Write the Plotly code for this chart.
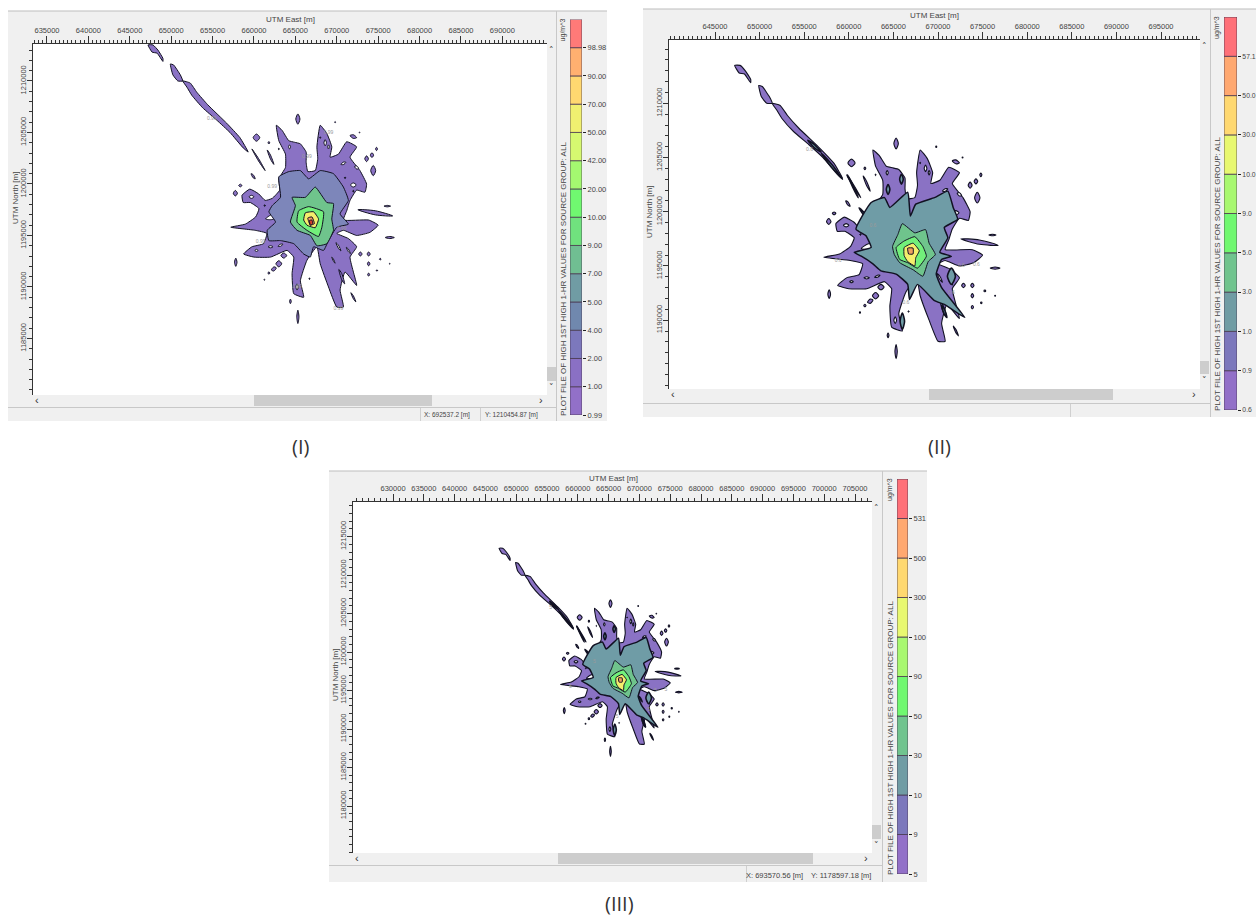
import plotly.graph_objects as go

W, H = 1256, 918
FONT = "Liberation Sans"
TXT = "#444444"

# ---------- data: contour outlines, UTM km ----------
plume_a_e = [647.2, 647.8, 648.4, 649.0, 649.0, 648.3, 647.7]
plume_a_n = [1213.5, 1213.5, 1213.0, 1212.2, 1211.9, 1212.7, 1212.8]
plume_b_e = [649.9, 650.3, 651.1, 651.4, 650.8, 650.2]
plume_b_n = [1211.65, 1211.55, 1210.6, 1210.0, 1210.0, 1210.6]
plume_c_e = [651.4, 652.3, 653.1, 654.4, 656.7, 658.3, 659.3, 658.7, 657.1, 655.5, 653.8, 652.5, 651.9]
plume_c_n = [1210.0, 1209.8, 1208.9, 1207.7, 1205.9, 1204.5, 1203.1, 1203.5, 1205.0, 1206.2, 1207.4, 1208.6, 1209.4]

outer_e = [657.2, 658.95, 660.2, 660.6, 659.55, 658.7, 658.55, 659.5, 660.55, 661.35, 662.2, 663.1, 663.0, 663.8,
           663.8, 663.0, 662.7, 663.4, 664.2, 664.9, 665.6, 666.3, 666.3, 666.5, 667.4, 667.7, 667.6, 668.0, 668.8,
           669.4, 669.2, 670.2, 671.2, 672.4, 671.6, 672.8, 673.6, 673.4, 672.4, 671.6, 671.2, 670.8, 673.85, 675.0,
           674.0, 672.4, 670.8, 670.0, 671.4, 672.4, 671.6, 672.4, 671.0, 670.4, 670.8, 670.0, 669.0, 668.0, 667.6,
           666.4, 665.6, 666.0, 664.8, 664.6, 664.8, 664.0, 662.0, 660.0, 658.75, 659.75, 661.15, 661.55, 660.15]
outer_n = [1195.8, 1196.1, 1196.8, 1197.6, 1198.2, 1198.2, 1198.9, 1199.5, 1199.05, 1198.4, 1198.6, 1199.4, 1200.5,
           1201.6, 1202.9, 1204.2, 1205.7, 1205.2, 1204.2, 1204.05, 1203.9, 1203.1, 1202.1, 1201.2, 1201.3, 1202.45,
           1203.6, 1205.7, 1204.9, 1203.6, 1202.6, 1202.9, 1204.1, 1203.6, 1202.6, 1201.3, 1200.0, 1199.2, 1199.4,
           1198.4, 1197.4, 1196.5, 1196.5, 1196.0, 1195.3, 1195.0, 1195.5, 1195.2, 1194.7, 1193.9, 1192.9, 1190.15,
           1191.45, 1189.7, 1188.05, 1188.05, 1190.0, 1192.25, 1193.9, 1192.6, 1190.6, 1189.0, 1189.35, 1191.3, 1192.9,
           1193.55, 1192.9, 1192.9, 1193.2, 1193.9, 1194.2, 1195.2, 1195.5]

# islands: east, north, half-width, half-height, tilt (km)
islands = [
    (665.3, 1206.3, .25, .5, 0), (660.3, 1204.5, .4, .35, 0), (665.3, 1187.1, .13, .65, 0),
    (674.65, 1197.2, 2.1, .2, -.3), (676.1, 1197.85, .4, .07, 0), (676.4, 1194.8, .55, .1, 0),
    (674.4, 1201.3, .3, .5, 0), (673.6, 1202.45, .22, .28, 0), (674.25, 1202.8, .2, .23, 0),
    (674.8, 1203.4, .12, .16, 0), (672.0, 1204.6, .4, .18, -.1), (657.75, 1199.1, .25, .27, 0),
    (658.35, 1199.85, .2, .13, 0), (659.9, 1200.75, .25, .15, -.25), (657.8, 1192.4, .15, .4, 0),
    (662.4, 1191.75, .3, .2, .1), (661.8, 1191.35, .12, .12, 0), (661.25, 1190.7, .06, .06, 0),
    (663.0, 1192.25, .35, .3, 0), (663.6, 1193.05, .35, .25, 0), (670.6, 1191.0, .35, .3, -.7),
    (672.0, 1189.0, .3, .15, -.45), (664.4, 1188.6, .1, .22, 0), (672.85, 1193.2, .2, .2, 0),
    (673.85, 1193.2, .18, .2, 0), (673.85, 1192.25, .15, .2, 0), (673.85, 1191.2, .12, .15, 0),
    (674.85, 1191.6, .08, .08, 0), (675.25, 1192.7, .1, .08, 0), (676.4, 1192.25, .05, .05, 0),
    (672.75, 1205.0, .05, .05, 0), (669.8, 1206.0, .06, .06, 0), (661.8, 1204.0, .1, .12, 0),
    (662.0, 1202.6, .4, .2, -.7), (660.55, 1202.35, .8, .12, -1.05),
]
holes = [(662.2, 1196.8, .8, .25, .2), (664.3, 1203.6, .12, .2, 0), (672.0, 1199.9, .35, .2, 0),
         (659.7, 1198.75, .3, .15, 0), (668.6, 1204.0, .15, .3, 0), (670.2, 1193.9, .3, .15, -.4),
         (671.4, 1193.55, .25, .12, -.3), (669.6, 1192.6, .2, .1, -.3), (665.2, 1190.0, .15, .3, 0),
         (662.0, 1193.9, .3, .1, 0), (660.3, 1193.55, .2, .1, 0), (663.2, 1194.05, .3, .1, .1),
         (669.0, 1203.6, .1, .2, 0), (672.4, 1201.6, .25, .15, -.1), (670.8, 1202.0, .3, .12, .1)]
specks = [(664.3, 1200.8, .08, .08, 0), (661.3, 1197.9, .08, .08, 0), (672.0, 1199.3, .08, .08, 0),
          (668.0, 1204.5, .07, .07, 0), (663.0, 1203.4, .07, .07, 0), (671.0, 1200.6, .08, .08, 0),
          (666.7, 1190.8, .07, .07, 0), (669.2, 1198.9, .07, .1, 0)]

# tiny contour-value labels along the outermost line
p1_tag_e = [654.9, 666.4, 660.8, 670.6, 670.2, 665.2, 662.2, 669.0]
p1_tag_n = [1206.3, 1202.6, 1194.4, 1195.65, 1187.9, 1190.0, 1199.7, 1205.0]
p1_tag_t = ["0.99"] * 8
p2_tag_e = [655.6, 658.8, 672.6, 674.3, 666.4, 662.7, 671.5]
p2_tag_n = [1205.7, 1195.5, 1195.0, 1195.1, 1191.6, 1198.7, 1192.5]
p2_tag_t = ["0.6"] * 7
p3_tag_t = ["5"] * 7

# panel I levels
p1_blue_e = [662.2, 663.2, 663.0, 664.2, 665.6, 666.6, 668.0, 669.6, 670.8, 671.4, 670.4, 671.4, 670.0, 669.0, 668.4,
             667.2, 666.8, 666.0, 664.8, 663.2, 661.8, 661.6, 662.6, 661.8]
p1_blue_n = [1197.9, 1198.7, 1200.7, 1201.2, 1201.3, 1200.5, 1201.3, 1201.0, 1199.7, 1198.4, 1197.1, 1196.1, 1195.8,
             1194.5, 1193.55, 1193.9, 1192.9, 1193.2, 1194.2, 1194.5, 1194.5, 1195.5, 1196.3, 1197.3]
p1_green_e = [664.6, 666.2, 667.4, 668.8, 669.6, 669.4, 669.6, 668.8, 667.6, 666.8, 665.2, 664.4, 665.0]
p1_green_n = [1198.7, 1198.7, 1199.7, 1198.2, 1198.1, 1196.6, 1195.5, 1194.2, 1194.0, 1195.0, 1195.5, 1196.3, 1197.9]
p1_lime_e = [665.4, 666.6, 668.4, 668.2, 667.8, 666.4, 665.2]
p1_lime_n = [1197.4, 1197.8, 1197.3, 1195.8, 1194.9, 1195.5, 1196.3]
p1_yellow_e = [666.2, 667.2, 667.8, 667.4, 666.4, 666.0]
p1_yellow_n = [1197.2, 1197.3, 1196.6, 1195.75, 1196.0, 1196.5]
p1_orange_e = [666.5, 667.0, 667.3, 666.8]
p1_orange_n = [1196.7, 1196.8, 1196.15, 1196.0]
p1_red_e = [666.7, 667.0, 667.1, 666.8]
p1_red_n = [1196.45, 1196.5, 1196.15, 1196.0]

# panels II and III levels
p2_teal_e = [660.6, 662.5, 661.9, 660.8, 662.5, 664.0, 664.6, 666.6, 666.9, 667.5, 669.6, 671.1, 671.7, 672.2, 670.7,
             671.1, 670.2, 671.5, 670.4, 669.8, 670.4, 673.0, 670.7, 669.6, 667.7, 666.8, 666.6, 665.3, 663.6, 662.7,
             661.4]
p2_teal_n = [1196.25, 1196.7, 1197.8, 1198.4, 1200.85, 1201.3, 1200.4, 1201.8, 1199.6, 1200.7, 1201.3, 1201.9, 1200.4,
             1199.3, 1198.55, 1197.6, 1196.25, 1195.9, 1195.6, 1194.25, 1193.0, 1190.25, 1191.45, 1191.8, 1193.3,
             1191.9, 1193.3, 1194.25, 1194.55, 1195.2, 1195.9]
p2_green_e = [664.9, 665.5, 666.0, 667.4, 668.6, 669.0, 669.7, 668.9, 668.3, 667.2, 665.7, 665.1]
p2_green_n = [1196.8, 1197.9, 1198.9, 1198.05, 1198.35, 1197.1, 1196.05, 1195.4, 1194.05, 1194.65, 1195.3, 1196.05]
p2_lime_e = [665.3, 666.2, 667.4, 668.3, 668.7, 667.7, 666.6, 665.7]
p2_lime_n = [1196.7, 1197.3, 1197.7, 1196.8, 1195.9, 1194.8, 1195.3, 1195.6]
p2_yellow_e = [666.2, 667.2, 667.9, 667.5, 667.4, 666.6, 666.2]
p2_yellow_n = [1196.7, 1197.1, 1196.4, 1195.75, 1195.0, 1195.4, 1195.95]
p2_orange_e = [666.6, 667.2, 667.2, 666.7]
p2_orange_n = [1196.65, 1196.65, 1196.1, 1196.1]
p2_islands = [(666.0, 1189.9, .25, .75, 0), (671.5, 1194.05, .45, .75, 0), (670.7, 1190.8, .3, .25, -.55),
              (664.4, 1202.05, .2, .45, 0), (665.9, 1203.0, .2, .45, 0), (661.75, 1199.75, .6, .15, -.6),
              (658.1, 1204.2, 1.2, .15, -1.2), (656.15, 1206.05, .75, .15, -.55), (660.45, 1202.35, .6, .1, -1.05)]

# colour bands, low to high
cb1_labels = ["0.99", "1.00", "2.00", "4.00", "5.00", "7.00", "9.00", "10.00", "20.00", "42.00", "50.00", "70.00", "90.00", "98.98"]
cb1_colors = ["#9270c8", "#8a70c4", "#7c78bc", "#7088ae", "#709ca4", "#70be92", "#70e27e", "#70f870", "#a4f870",
              "#d6f870", "#f0f070", "#ffd870", "#ffb070", "#ff7a78"]
cb2_labels = ["0.6", "0.9", "1.0", "3.0", "5.0", "9.0", "10.0", "30.0", "50.0", "57.1"]
cb3_labels = ["5", "9", "10", "30", "50", "90", "100", "300", "500", "531"]
cb23_colors = ["#9270c8", "#7c78bc", "#709ca4", "#70c48e", "#70f870", "#a8f870", "#e8f870", "#ffd870", "#ffa870", "#ff7078"]

C_PURPLE, C_BLUE, C_TEAL = "#8a72c4", "#7d86ba", "#6f9ca6"
C_GREEN, C_LIME, C_YELLOW, C_ORANGE, C_RED = "#6fc48c", "#72f07a", "#f4ee6c", "#eea060", "#d8402c"

titles = ["PLOT FILE OF HIGH 1ST HIGH 1-HR VALUES FOR SOURCE GROUP: ALL"]
panel_names = ["(I)", "(II)", "(III)"]

east_ticks = [list(range(635000, 690001, 5000)), list(range(645000, 695001, 5000)), list(range(630000, 705001, 5000))]
north_ticks = [list(range(1185000, 1210001, 5000)), list(range(1190000, 1210001, 5000)), list(range(1180000, 1215001, 5000))]
east_minor = [500, 500, 1000]

# ---------- layout frames, pixels of the page ----------
def fx(p): return p / W
def fy(p): return 1 - p / H

panels = [
    dict(box=(8, 11, 607, 421), plot=(33, 44, 547, 395), xr=(633.31, 695.39), yr=(1179.51, 1213.59),
         vthumb=(367, 381), hthumb=(254, 432), cb=(570, 582, 19.4, 415), cbx=556, status=(408, 421),
         div=[420, 480], txt=[("X: 692537.2 [m]", 447), ("Y: 1210454.87 [m]", 511)], stsize=6.5, cbfont=7.5,
         east=(290, 19), north=(15, 198), name=(300, 446)),
    dict(box=(643, 9, 1256, 417), plot=(669, 40, 1200, 389), xr=(639.84, 699.37), yr=(1183.65, 1215.84),
         vthumb=(361, 374), hthumb=(929, 1113), cb=(1224, 1237, 17, 410), cbx=1210, status=(404, 417),
         div=[1070], txt=[], stsize=7, cbfont=6.8, east=(934, 15), north=(649, 212), name=(940, 446)),
    dict(box=(329, 471, 927, 882), plot=(353, 502, 872, 853), xr=(623.5, 707.76), yr=(1173.9, 1219.5),
         vthumb=(825, 839), hthumb=(558, 813), cb=(897, 908, 479, 874), cbx=882, status=(866, 882),
         div=[746], txt=[("X: 693570.56 [m]", 774), ("Y: 1178597.18 [m]", 841)], stsize=7.5, cbfont=7.5,
         east=(613, 478), north=(335, 675), name=(619, 903)),
]

fig = go.Figure()
shapes, notes = [], []

def rect(x0, y0, x1, y1, fill, line=None, width=1):
    shapes.append(dict(type="rect", xref="paper", yref="paper", x0=fx(x0), x1=fx(x1), y0=fy(y1), y1=fy(y0),
                       fillcolor=fill, line=dict(color=line or fill, width=width if line else 0), layer="below"))

def note(x, y, text, size=8, angle=0, anchor="center", color=TXT, family=FONT):
    notes.append(dict(xref="paper", yref="paper", x=fx(x), y=fy(y), text=text, showarrow=False, xanchor=anchor,
                      yanchor="middle", textangle=angle, borderpad=0, font=dict(size=size, color=color, family=family)))

def poly(es, ns, fill, ax, lw=1.0, smooth=0.4):
    fig.add_trace(go.Scatter(x=[e * 1000 for e in es + es[:1]], y=[n * 1000 for n in ns + ns[:1]], mode="lines",
                             fill="toself", fillcolor=fill, line=dict(color="#111122", width=lw, shape="spline", smoothing=smooth),
                             hoverinfo="skip", showlegend=False, xaxis=ax[0], yaxis=ax[1]))

def blobs(items, fill, ax, lw=1.0):
    xs, ys = [], []
    for e, n, a, b, s in items:
        xs += [(e - a) * 1000, e * 1000, (e + a) * 1000, e * 1000, (e - a) * 1000, None]
        ys += [(n - s) * 1000, (n + b) * 1000, (n + s) * 1000, (n - b) * 1000, (n - s) * 1000, None]
    fig.add_trace(go.Scatter(x=xs, y=ys, mode="lines", fill="toself", fillcolor=fill,
                             line=dict(color="#111122", width=lw, shape="spline", smoothing=0.8),
                             hoverinfo="skip", showlegend=False, xaxis=ax[0], yaxis=ax[1]))

def tags(es, ns, ts, ax):
    fig.add_trace(go.Scatter(x=[e * 1000 for e in es], y=[n * 1000 for n in ns], text=ts, mode="text",
                             textfont=dict(size=5, color="#9a9a9a", family=FONT), hoverinfo="skip",
                             showlegend=False, xaxis=ax[0], yaxis=ax[1]))

def base_shapes(ax, lw):
    poly(plume_a_e, plume_a_n, C_PURPLE, ax, lw)
    poly(plume_b_e, plume_b_n, C_PURPLE, ax, lw)
    poly(plume_c_e, plume_c_n, C_PURPLE, ax, lw)
    poly(outer_e, outer_n, C_PURPLE, ax, lw)
    blobs(islands, C_PURPLE, ax, lw)
    blobs(holes, "#ffffff", ax, lw)
    blobs(specks, "#222233", ax, 1)

# panel I marks
ax = ("x", "y")
base_shapes(ax, 1.0)
poly(p1_blue_e, p1_blue_n, C_BLUE, ax)
poly(p1_green_e, p1_green_n, C_GREEN, ax)
poly(p1_lime_e, p1_lime_n, C_LIME, ax)
poly(p1_yellow_e, p1_yellow_n, C_YELLOW, ax)
poly(p1_orange_e, p1_orange_n, C_ORANGE, ax)
poly(p1_red_e, p1_red_n, C_RED, ax)
tags(p1_tag_e, p1_tag_n, p1_tag_t, ax)

# panels II, III marks
for ax, tag_t in ((("x2", "y2"), p2_tag_t), (("x3", "y3"), p3_tag_t)):
    base_shapes(ax, 1.1)
    blobs(p2_islands, C_TEAL, ax, 1.6)
    poly(p2_teal_e, p2_teal_n, C_TEAL, ax, 1.5)
    poly(p2_green_e, p2_green_n, C_GREEN, ax)
    poly(p2_lime_e, p2_lime_n, C_LIME, ax)
    poly(p2_yellow_e, p2_yellow_n, C_YELLOW, ax)
    poly(p2_orange_e, p2_orange_n, C_ORANGE, ax)
    tags(p2_tag_e, p2_tag_n, tag_t, ax)

# colour scales
scales = [(cb1_labels, cb1_colors), (cb2_labels, cb23_colors), (cb3_labels, cb23_colors)]
layout_axes = {}
for i, (p, (labs, cols)) in enumerate(zip(panels, scales)):
    n = i + 4
    fig.add_trace(go.Bar(x=[0] * len(labs), y=[1] * len(labs), base=list(range(len(labs))), width=1,
                         marker=dict(color=cols, line=dict(color="#4a3a50", width=0.8)), hoverinfo="skip",
                         showlegend=False, xaxis=f"x{n}", yaxis=f"y{n}"))
    x0, x1, y0, y1 = p["cb"]
    layout_axes[f"xaxis{n}"] = dict(domain=[fx(x0), fx(x1)], range=[-.5, .5], visible=False, anchor=f"y{n}",
                                    fixedrange=True, automargin=False)
    layout_axes[f"yaxis{n}"] = dict(domain=[fy(y1), fy(y0)], range=[0, len(labs)], side="right", anchor=f"x{n}",
                                    tickmode="array", tickvals=list(range(len(labs))), ticktext=labs, ticks="outside",
                                    ticklen=3, tickcolor="#222222", tickwidth=1, showgrid=False, zeroline=False,
                                    tickfont=dict(size=p["cbfont"], color=TXT, family=FONT), showline=False,
                                    fixedrange=True, automargin=False)

# panel furniture and plot axes
for i, p in enumerate(panels):
    s = "" if i == 0 else str(i + 1)
    bx0, by0, bx1, by1 = p["box"]
    px0, py0, px1, py1 = p["plot"]
    rect(bx0, by0, bx1, by1, "#f0f0f0")
    shapes.append(dict(type="line", xref="paper", yref="paper", x0=fx(bx0), x1=fx(bx1), y0=fy(by0), y1=fy(by0),
                       line=dict(color="#bdbdbd", width=1), layer="below"))
    rect(px0, py0, px1, py1, "#ffffff")
    rect(px1 + 0, p["vthumb"][0], px1 + 9, p["vthumb"][1], "#cdcdcd")
    rect(p["hthumb"][0], py1 + 0, p["hthumb"][1], py1 + 11, "#cdcdcd")
    rect(p["cbx"], by0, p["cbx"] + 1, by1, "#c8c8c8")
    rect(bx0, p["status"][0] - 1, p["cbx"], p["status"][0], "#c8c8c8")
    for d in p["div"]:
        rect(d, p["status"][0], d + 1, by1, "#d0d0d0")
    for text, cx in p["txt"]:
        note(cx, (p["status"][0] + by1) / 2 + 1, text, size=p["stsize"])
    note(px0 + 4, py1 + 5, "‹", size=11, color="#333333")
    note(px1 - 6, py1 + 5, "›", size=11, color="#333333")
    note(px1 + 4, py0 + 6, "˄", size=9, color="#333333", family="DejaVu Sans")
    note(px1 + 4, p["vthumb"][1] - 8 + 14, "˅", size=9, color="#333333", family="DejaVu Sans")
    note(*p["east"], "UTM East [m]", size=8)
    note(*p["north"], "UTM North [m]", size=8, angle=-90)
    lx = p["cb"][0] - 7
    note(lx, p["cb"][2] + 11, "ug/m^3", size=7, angle=-90)
    note(lx, p["cb"][3] - 136, titles[0], size=8, angle=-90)
    note(*p["name"], panel_names[i], size=20, color="#333333", family="Open Sans")
    layout_axes[f"xaxis{s}"] = dict(domain=[fx(px0), fx(px1)], range=[p["xr"][0] * 1000, p["xr"][1] * 1000], side="top",
                                    anchor=f"y{s}", tickmode="array", tickvals=east_ticks[i],
                                    ticktext=[str(v) for v in east_ticks[i]], ticks="outside", ticklen=7,
                                    tickcolor="#333333", showgrid=False, zeroline=False, showline=True, linecolor="#333333",
                                    linewidth=1, tickfont=dict(size=7.5, color=TXT, family=FONT), fixedrange=True,
                                    automargin=False,
                                    minor=dict(dtick=east_minor[i], tick0=0, ticks="outside", ticklen=3,
                                               tickcolor="#333333", showgrid=False))
    layout_axes[f"yaxis{s}"] = dict(domain=[fy(py1), fy(py0)], range=[p["yr"][0] * 1000, p["yr"][1] * 1000], side="left",
                                    anchor=f"x{s}", tickmode="array", tickvals=north_ticks[i],
                                    ticktext=[str(v) for v in north_ticks[i]], ticks="outside", ticklen=5,
                                    ticklabelstandoff=-2,
                                    tickangle=-90, tickcolor="#333333", showgrid=False, zeroline=False, showline=True,
                                    linecolor="#333333", linewidth=1, tickfont=dict(size=7.5, color=TXT, family=FONT),
                                    fixedrange=True, automargin=False,
                                    minor=dict(dtick=1000, tick0=0, ticks="outside", ticklen=3,
                                               tickcolor="#333333", showgrid=False))

fig.update_layout(width=W, height=H, margin=dict(l=0, r=0, t=0, b=0), paper_bgcolor="#ffffff",
                  plot_bgcolor="rgba(0,0,0,0)", shapes=shapes, annotations=notes, barmode="overlay",
                  showlegend=False, **layout_axes)

fig.write_html("out.html", config=dict(displayModeBar=False),
               post_script="document.body.style.margin='0';document.body.style.overflow='hidden';")
